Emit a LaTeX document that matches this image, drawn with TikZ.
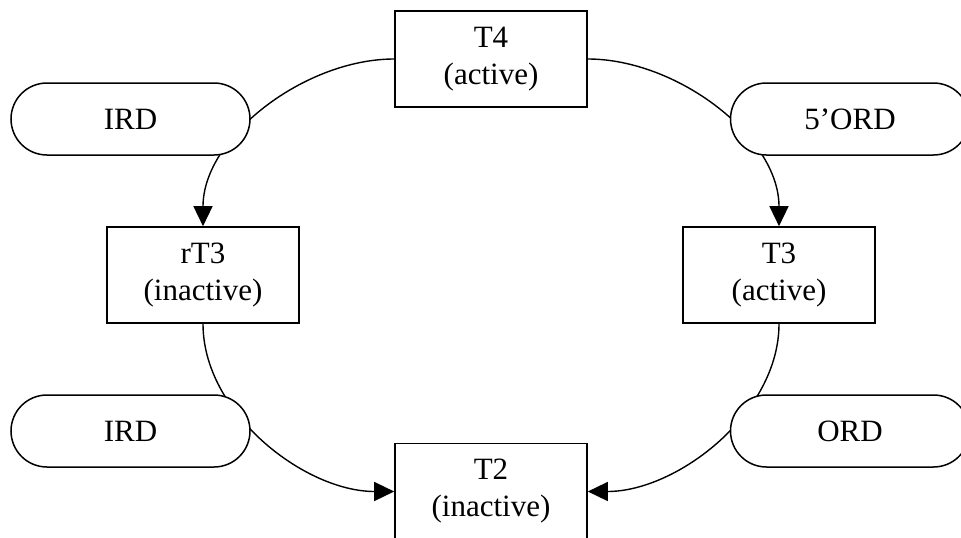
\documentclass[tikz,border=0pt]{standalone}
\usepackage{fontspec}
\setmainfont{Liberation Serif}
\usetikzlibrary{arrows.meta}
\begin{document}
\begin{tikzpicture}[x=1pt,y=-1pt,
  hormone/.style={draw, line width=1.6pt, fill=white, minimum width=192pt, minimum height=96pt, inner sep=0pt, align=center, font=\fontsize{31}{37}\selectfont},
  enzyme/.style={draw, line width=1.5pt, fill=white, minimum width=239pt, minimum height=72pt, rounded corners=36pt, inner sep=0pt, font=\fontsize{31}{37}\selectfont},
  conv/.style={line width=1.4pt, -{Triangle[length=20pt,width=19pt]}, looseness=0.9}]
\useasboundingbox (0,0) rectangle (961,538);
\node[hormone] (t4) at (491,59) {T4\\(active)};
\node[hormone] (rt3) at (203,275) {rT3\\(inactive)};
\node[hormone] (t3) at (779,275) {T3\\(active)};
\node[hormone] (t2) at (491,491.5) {T2\\(inactive)};
\draw[conv] (t4.west) to[out=180,in=90] (rt3.north);
\draw[conv] (t4.east) to[out=0,in=90] (t3.north);
\draw[conv] (rt3.south) to[out=-90,in=180] (t2.west);
\draw[conv] (t3.south) to[out=-90,in=0] (t2.east);
\node[enzyme] (ird1) at (130.5,119) {IRD};
\node[enzyme] (ord5) at (850,119) {5’ORD};
\node[enzyme] (ird2) at (130.5,431) {IRD};
\node[enzyme] (ord) at (850,431) {ORD};
\end{tikzpicture}
\end{document}
